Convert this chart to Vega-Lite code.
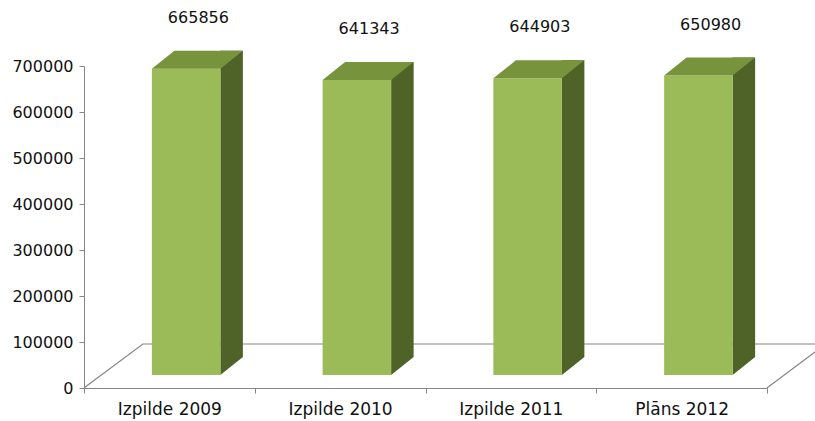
{
  "$schema": "https://vega.github.io/schema/vega-lite/v6.json",
  "autosize": "none",
  "width": 683,
  "height": 322,
  "padding": {"left": 84, "top": 66, "right": 48, "bottom": 33},
  "background": "white",
  "config": {"view": {"stroke": null}},
  "data": {"values": [
    {"cat": "Izpilde 2009", "value": 665856},
    {"cat": "Izpilde 2010", "value": 641343},
    {"cat": "Izpilde 2011", "value": 644903},
    {"cat": "Plāns 2012", "value": 650980}
  ]},
  "encoding": {
    "x": {"field": "cat", "type": "nominal", "sort": null,
      "scale": {"paddingInner": 0, "paddingOuter": 0},
      "axis": {"title": null, "labelAngle": 0, "tickBand": "extent", "domainColor": "#868686", "tickColor": "#868686", "tickSize": 5,
        "labelFont": "DejaVu Sans", "labelFontSize": 17, "labelColor": "#111111", "labelPadding": 8}}
  },
  "layer": [
    {
      "data": {"values": [{"cat": "Izpilde 2009", "value": 0}]},
      "mark": {"type": "point", "filled": false, "opacity": 1, "stroke": "#868686", "strokeWidth": 1.2, "size": 10000,
        "shape": "M -1.71 0 L -0.53 -0.88 L 13.13 -0.88 M 11.95 0 L 13.13 -0.88"},
      "encoding": {"y": {"field": "value", "type": "quantitative"}}
    },
    {
      "mark": {"type": "bar", "color": "#4F6228", "width": 22.5, "xOffset": 62.25, "yOffset": -31, "y2Offset": -31},
      "encoding": {
        "y": {"field": "value", "type": "quantitative", "scale": {"domain": [0, 700000], "nice": false},
          "axis": {"title": null, "grid": false, "values": [0, 100000, 200000, 300000, 400000, 500000, 600000, 700000], "format": "d",
            "domainColor": "#868686", "tickColor": "#868686", "tickSize": 5, "labelFont": "DejaVu Sans", "labelFontSize": 16,
            "labelColor": "#111111", "labelPadding": 6}},
        "y2": {"datum": 0}
      }
    },
    {
      "mark": {"type": "point", "filled": true, "opacity": 1, "color": "#4F6228", "strokeWidth": 0, "size": 10000,
        "shape": "M 1.02 -0.62 L 1.47 -0.62 L 1.02 -0.26 Z"},
      "encoding": {"y": {"datum": 0, "type": "quantitative"}}
    },
    {
      "mark": {"type": "bar", "color": "#9BBB59", "width": 68.5, "xOffset": 16.75, "yOffset": -13, "y2Offset": -13},
      "encoding": {
        "y": {"field": "value", "type": "quantitative"},
        "y2": {"datum": 0}
      }
    },
    {
      "mark": {"type": "point", "filled": true, "opacity": 1, "color": "#77933C", "strokeWidth": 0, "size": 10000,
        "shape": "M -0.35 -0.26 L 1.02 -0.26 L 1.47 -0.62 L 0.1 -0.62 Z"},
      "encoding": {"y": {"field": "value", "type": "quantitative"}}
    },
    {
      "mark": {"type": "text", "font": "DejaVu Sans", "fontSize": 16, "color": "#111111", "dx": 29, "dy": -64, "baseline": "middle"},
      "encoding": {
        "y": {"field": "value", "type": "quantitative"},
        "text": {"field": "value", "type": "quantitative", "format": "d"}
      }
    }
  ]
}
